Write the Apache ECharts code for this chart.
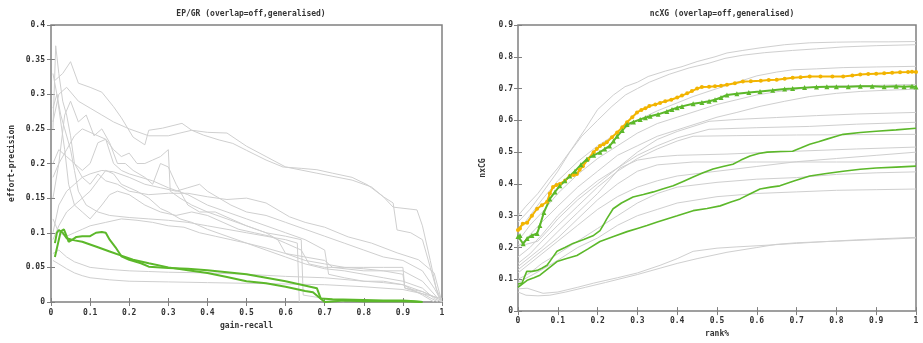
<!DOCTYPE html>
<html>
<head>
<meta charset="utf-8">
<script src="https://cdn.jsdelivr.net/npm/echarts@6/dist/echarts.min.js"></script>
<style>html,body{margin:0;padding:0;background:#fff}#c{width:923px;height:343px}</style>
</head>
<body>
<div id="c"></div>
<script>
// ---------- Titles / axis names ----------
const leftTitle = "EP/GR (overlap=off,generalised)";
const rightTitle = "ncXG (overlap=off,generalised)";
const leftXName = "gain-recall";
const leftYName = "effort-precision";
const rightXName = "rank%";
const rightYName = "nxCG";

// ---------- Left chart (EP/GR) : gray runs ----------
const ep1 = [[0.01,0.32],[0.03,0.33],[0.05,0.347],[0.07,0.316],[0.1,0.31],[0.13,0.303],[0.16,0.282],[0.18,0.266],[0.21,0.238],[0.24,0.227],[0.25,0.248],[0.285,0.251],[0.335,0.258],[0.36,0.248],[0.39,0.241],[0.43,0.234],[0.465,0.229],[0.5,0.219],[0.55,0.205],[0.593,0.195],[0.64,0.193],[0.68,0.191],[0.72,0.186],[0.77,0.18],[0.81,0.169],[0.85,0.152],[0.875,0.137],[0.936,0.133],[0.95,0.11],[0.97,0.06],[0.985,0.02],[1,0]];
const ep2 = [[0.005,0.26],[0.02,0.30],[0.04,0.31],[0.07,0.29],[0.1,0.28],[0.13,0.27],[0.16,0.26],[0.2,0.25],[0.25,0.24],[0.3,0.24],[0.36,0.248],[0.4,0.245],[0.45,0.244],[0.5,0.225],[0.55,0.21],[0.6,0.195],[0.68,0.186],[0.77,0.176],[0.82,0.166],[0.85,0.152],[0.875,0.143],[0.885,0.104],[0.92,0.10],[0.95,0.09],[0.97,0.05],[0.99,0.01],[1,0]];
const ep3 = [[0.005,0.25],[0.012,0.37],[0.02,0.33],[0.03,0.29],[0.04,0.27],[0.05,0.24],[0.06,0.2],[0.08,0.18],[0.1,0.17],[0.12,0.185],[0.14,0.175],[0.17,0.17],[0.2,0.16],[0.25,0.155],[0.3,0.157],[0.35,0.157],[0.4,0.152],[0.45,0.148],[0.5,0.15],[0.55,0.143],[0.61,0.123],[0.65,0.115],[0.7,0.108],[0.76,0.094],[0.82,0.085],[0.885,0.071],[0.94,0.061],[0.98,0.042],[0.995,0.01],[1,0]];
const ep4 = [[0.005,0.28],[0.015,0.3],[0.025,0.27],[0.035,0.25],[0.05,0.22],[0.06,0.19],[0.07,0.16],[0.09,0.14],[0.12,0.13],[0.15,0.125],[0.2,0.122],[0.25,0.12],[0.3,0.118],[0.35,0.115],[0.4,0.11],[0.45,0.105],[0.5,0.1],[0.55,0.095],[0.6,0.09],[0.63,0.085],[0.635,0.0]];
const ep5 = [[0.005,0.2],[0.02,0.22],[0.04,0.21],[0.06,0.2],[0.08,0.19],[0.1,0.2],[0.12,0.23],[0.14,0.235],[0.16,0.2],[0.18,0.19],[0.2,0.185],[0.23,0.18],[0.26,0.175],[0.3,0.165],[0.35,0.155],[0.4,0.14],[0.45,0.13],[0.5,0.12],[0.55,0.11],[0.6,0.1],[0.65,0.09],[0.7,0.075],[0.71,0.04],[0.75,0.035],[0.8,0.03],[0.85,0.03],[0.9,0.025],[0.95,0.01],[0.98,0]];
const ep6 = [[0.005,0.15],[0.02,0.2],[0.035,0.27],[0.05,0.29],[0.07,0.26],[0.09,0.27],[0.11,0.24],[0.13,0.25],[0.15,0.23],[0.17,0.2],[0.19,0.2],[0.21,0.19],[0.24,0.18],[0.26,0.17],[0.28,0.2],[0.3,0.195],[0.32,0.17],[0.35,0.14],[0.38,0.13],[0.42,0.13],[0.46,0.12],[0.5,0.11],[0.55,0.1],[0.58,0.09],[0.6,0.07],[0.65,0.06],[0.7,0.055],[0.75,0.05],[0.8,0.048],[0.85,0.045],[0.9,0.04],[0.905,0.02],[0.95,0.012],[0.99,0]];
const ep7 = [[0.005,0.09],[0.02,0.11],[0.04,0.13],[0.06,0.14],[0.08,0.15],[0.1,0.16],[0.12,0.175],[0.14,0.19],[0.16,0.185],[0.18,0.17],[0.2,0.165],[0.22,0.16],[0.25,0.15],[0.28,0.135],[0.3,0.13],[0.33,0.12],[0.36,0.115],[0.4,0.105],[0.45,0.095],[0.5,0.085],[0.55,0.078],[0.6,0.07],[0.65,0.065],[0.7,0.06],[0.72,0.05],[0.8,0.045],[0.9,0.045],[0.95,0.03],[0.99,0.005]];
const ep8 = [[0.005,0.12],[0.02,0.1],[0.04,0.095],[0.06,0.1],[0.08,0.105],[0.1,0.11],[0.14,0.115],[0.18,0.12],[0.22,0.118],[0.26,0.115],[0.3,0.11],[0.34,0.108],[0.38,0.1],[0.42,0.095],[0.46,0.09],[0.5,0.085],[0.55,0.075],[0.6,0.065],[0.65,0.055],[0.7,0.048],[0.75,0.045],[0.8,0.04],[0.85,0.035],[0.9,0.03],[0.95,0.02],[0.98,0.005],[1,0]];
const ep9 = [[0.005,0.06],[0.02,0.055],[0.04,0.048],[0.06,0.042],[0.08,0.038],[0.1,0.035],[0.15,0.032],[0.2,0.03],[0.3,0.029],[0.4,0.028],[0.5,0.027],[0.6,0.026],[0.7,0.025],[0.8,0.022],[0.9,0.018],[0.95,0.012],[1,0.005]];
const ep10 = [[0.005,0.07],[0.02,0.075],[0.04,0.065],[0.06,0.058],[0.1,0.05],[0.15,0.047],[0.2,0.045],[0.25,0.044],[0.3,0.043],[0.4,0.042],[0.5,0.04],[0.6,0.037],[0.7,0.035],[0.8,0.03],[0.85,0.028],[0.9,0.025],[0.95,0.015],[1,0.002]];
const ep11 = [[0.005,0.33],[0.015,0.3],[0.025,0.26],[0.035,0.22],[0.045,0.17],[0.06,0.14],[0.08,0.13],[0.1,0.12],[0.13,0.14],[0.15,0.155],[0.17,0.16],[0.2,0.155],[0.24,0.14],[0.28,0.13],[0.32,0.125],[0.36,0.13],[0.4,0.125],[0.44,0.115],[0.48,0.105],[0.52,0.1],[0.56,0.095],[0.6,0.085],[0.64,0.075],[0.66,0.055],[0.7,0.05],[0.75,0.05],[0.8,0.05],[0.85,0.05],[0.9,0.05],[0.905,0.02],[0.95,0.015],[0.99,0.005]];
const ep12 = [[0.005,0.18],[0.02,0.2],[0.04,0.22],[0.06,0.24],[0.08,0.25],[0.1,0.245],[0.12,0.24],[0.14,0.235],[0.16,0.22],[0.18,0.21],[0.2,0.215],[0.22,0.2],[0.24,0.2],[0.26,0.205],[0.28,0.21],[0.3,0.22],[0.305,0.16],[0.33,0.15],[0.36,0.14],[0.4,0.13],[0.45,0.12],[0.5,0.11],[0.55,0.1],[0.6,0.095],[0.64,0.09],[0.645,0.01],[0.7,0.005],[0.75,0]];
const ep13 = [[0.005,0.1],[0.02,0.14],[0.04,0.16],[0.06,0.17],[0.08,0.18],[0.1,0.185],[0.13,0.19],[0.16,0.188],[0.2,0.18],[0.24,0.17],[0.28,0.165],[0.32,0.16],[0.35,0.165],[0.38,0.17],[0.4,0.16],[0.43,0.15],[0.46,0.14],[0.5,0.13],[0.55,0.125],[0.6,0.115],[0.65,0.105],[0.7,0.095],[0.75,0.085],[0.8,0.075],[0.85,0.065],[0.9,0.06],[0.95,0.045],[0.98,0.02],[1,0]];
// ---------- Left chart : green runs ----------
const epGreenA = [[0.01,0.065],[0.02,0.09],[0.025,0.102],[0.033,0.105],[0.04,0.095],[0.045,0.087],[0.055,0.09],[0.065,0.094],[0.08,0.095],[0.1,0.095],[0.115,0.1],[0.13,0.101],[0.14,0.1],[0.15,0.09],[0.165,0.079],[0.18,0.066],[0.2,0.061],[0.23,0.056],[0.25,0.051],[0.3,0.049],[0.35,0.048],[0.4,0.046],[0.45,0.043],[0.5,0.04],[0.55,0.035],[0.6,0.03],[0.64,0.025],[0.68,0.02],[0.69,0.005],[0.72,0.004],[0.8,0.003],[0.85,0.002],[0.9,0.002],[0.93,0.001],[0.95,0]];
const epGreenB = [[0.01,0.085],[0.015,0.1],[0.02,0.104],[0.03,0.1],[0.04,0.092],[0.06,0.089],[0.08,0.087],[0.1,0.083],[0.12,0.079],[0.15,0.073],[0.18,0.067],[0.21,0.061],[0.25,0.056],[0.3,0.05],[0.35,0.046],[0.4,0.042],[0.45,0.036],[0.5,0.03],[0.55,0.027],[0.6,0.022],[0.65,0.016],[0.67,0.014],[0.7,0],[0.75,0.002],[0.8,0.001],[0.9,0.001],[0.95,0]];

// ---------- Right chart (ncXG) : gray runs ----------
const nx1 = [[0,0.3],[0.02,0.33],[0.05,0.37],[0.08,0.42],[0.1,0.45],[0.135,0.51],[0.17,0.575],[0.2,0.634],[0.24,0.68],[0.269,0.706],[0.3,0.72],[0.327,0.738],[0.37,0.755],[0.412,0.769],[0.45,0.785],[0.495,0.80],[0.525,0.812],[0.565,0.82],[0.608,0.828],[0.67,0.838],[0.733,0.844],[0.8,0.846],[0.86,0.847],[0.93,0.847],[1,0.848]];
const nx2 = [[0,0.28],[0.03,0.32],[0.06,0.37],[0.1,0.44],[0.13,0.5],[0.16,0.55],[0.2,0.6],[0.236,0.644],[0.27,0.68],[0.3,0.7],[0.33,0.72],[0.38,0.745],[0.43,0.765],[0.48,0.78],[0.52,0.795],[0.565,0.805],[0.62,0.813],[0.69,0.82],[0.75,0.825],[0.817,0.831],[0.9,0.835],[1,0.838]];
const nx3 = [[0,0.25],[0.03,0.3],[0.06,0.35],[0.1,0.41],[0.15,0.47],[0.2,0.52],[0.25,0.56],[0.3,0.6],[0.35,0.63],[0.4,0.655],[0.44,0.675],[0.5,0.7],[0.55,0.72],[0.6,0.74],[0.65,0.752],[0.69,0.759],[0.75,0.762],[0.817,0.766],[0.9,0.768],[1,0.77]];
const nx4 = [[0,0.22],[0.03,0.27],[0.06,0.31],[0.1,0.37],[0.15,0.43],[0.2,0.48],[0.25,0.52],[0.3,0.56],[0.35,0.59],[0.4,0.61],[0.45,0.63],[0.5,0.65],[0.55,0.665],[0.6,0.68],[0.65,0.69],[0.733,0.703],[0.8,0.708],[0.9,0.71],[1,0.713]];
const nx5 = [[0,0.2],[0.03,0.24],[0.06,0.28],[0.1,0.33],[0.15,0.39],[0.2,0.44],[0.25,0.49],[0.3,0.52],[0.35,0.55],[0.4,0.57],[0.45,0.59],[0.5,0.61],[0.55,0.625],[0.608,0.644],[0.67,0.66],[0.733,0.675],[0.8,0.685],[0.86,0.691],[0.93,0.695],[1,0.698]];
const nx6 = [[0,0.21],[0.02,0.21],[0.05,0.22],[0.08,0.26],[0.1,0.29],[0.15,0.35],[0.2,0.4],[0.25,0.45],[0.3,0.5],[0.35,0.54],[0.4,0.565],[0.48,0.597],[0.55,0.603],[0.65,0.609],[0.75,0.615],[0.85,0.62],[1,0.625]];
const nx7 = [[0,0.17],[0.03,0.2],[0.06,0.24],[0.1,0.3],[0.15,0.36],[0.2,0.41],[0.25,0.45],[0.3,0.49],[0.35,0.52],[0.4,0.545],[0.48,0.572],[0.6,0.577],[0.733,0.581],[0.85,0.588],[1,0.594]];
const nx8 = [[0,0.15],[0.03,0.18],[0.06,0.22],[0.1,0.27],[0.15,0.33],[0.2,0.39],[0.25,0.44],[0.3,0.48],[0.35,0.51],[0.4,0.535],[0.44,0.55],[0.55,0.552],[0.7,0.554],[0.85,0.555],[1,0.556]];
const nx9 = [[0,0.14],[0.03,0.17],[0.06,0.2],[0.1,0.25],[0.15,0.31],[0.2,0.37],[0.256,0.45],[0.3,0.475],[0.35,0.485],[0.4,0.49],[0.525,0.494],[0.7,0.503],[0.85,0.51],[1,0.516]];
const nx10 = [[0,0.12],[0.03,0.15],[0.06,0.18],[0.1,0.22],[0.15,0.27],[0.2,0.32],[0.25,0.36],[0.3,0.39],[0.35,0.41],[0.4,0.425],[0.5,0.44],[0.6,0.455],[0.7,0.47],[0.8,0.48],[0.9,0.49],[1,0.50]];
const nx11 = [[0,0.13],[0.03,0.16],[0.06,0.19],[0.1,0.23],[0.15,0.29],[0.2,0.35],[0.25,0.4],[0.3,0.44],[0.35,0.46],[0.44,0.469],[0.6,0.469],[0.8,0.469],[1,0.469]];
const nx12 = [[0,0.1],[0.03,0.12],[0.06,0.15],[0.1,0.18],[0.15,0.22],[0.2,0.26],[0.25,0.3],[0.3,0.34],[0.35,0.37],[0.4,0.39],[0.5,0.405],[0.6,0.415],[0.7,0.42],[0.8,0.43],[0.9,0.435],[1,0.438]];
const nx13 = [[0,0.09],[0.03,0.11],[0.06,0.13],[0.1,0.16],[0.15,0.2],[0.2,0.23],[0.25,0.27],[0.3,0.3],[0.35,0.32],[0.4,0.34],[0.5,0.36],[0.6,0.37],[0.7,0.375],[0.8,0.38],[0.9,0.382],[1,0.384]];
const nx14 = [[0,0.07],[0.023,0.072],[0.063,0.056],[0.1,0.06],[0.15,0.075],[0.19,0.088],[0.25,0.105],[0.3,0.12],[0.357,0.144],[0.4,0.165],[0.44,0.188],[0.5,0.198],[0.55,0.202],[0.608,0.206],[0.7,0.213],[0.776,0.219],[0.85,0.224],[0.92,0.228],[1,0.232]];
const nx15 = [[0,0.06],[0.02,0.05],[0.05,0.048],[0.08,0.05],[0.12,0.06],[0.17,0.075],[0.22,0.09],[0.3,0.115],[0.357,0.135],[0.4,0.15],[0.45,0.165],[0.525,0.185],[0.6,0.2],[0.65,0.21],[0.7,0.215],[0.8,0.22],[0.9,0.225],[1,0.23]];
// ---------- Right chart : highlighted runs ----------
const nxOrange = [[0,0.255],[0.005,0.26],[0.012,0.275],[0.023,0.278],[0.035,0.3],[0.048,0.322],[0.06,0.333],[0.073,0.344],[0.08,0.37],[0.088,0.39],[0.097,0.397],[0.105,0.40],[0.118,0.41],[0.13,0.425],[0.14,0.428],[0.148,0.431],[0.155,0.445],[0.163,0.456],[0.176,0.478],[0.19,0.50],[0.198,0.51],[0.206,0.519],[0.215,0.525],[0.223,0.531],[0.236,0.547],[0.249,0.562],[0.262,0.578],[0.274,0.594],[0.287,0.61],[0.299,0.625],[0.31,0.633],[0.32,0.638],[0.33,0.645],[0.345,0.65],[0.357,0.655],[0.37,0.66],[0.385,0.665],[0.4,0.672],[0.412,0.678],[0.425,0.685],[0.437,0.692],[0.45,0.700],[0.462,0.705],[0.48,0.706],[0.495,0.707],[0.51,0.709],[0.525,0.712],[0.545,0.717],[0.565,0.722],[0.585,0.723],[0.61,0.725],[0.63,0.727],[0.65,0.728],[0.67,0.731],[0.69,0.734],[0.71,0.736],[0.733,0.738],[0.76,0.738],[0.79,0.738],[0.817,0.738],[0.84,0.741],[0.86,0.744],[0.88,0.746],[0.9,0.747],[0.92,0.748],[0.94,0.75],[0.96,0.751],[0.98,0.752],[0.99,0.753],[1,0.752]];
const nxGreenMarked = [[0,0.235],[0.005,0.238],[0.013,0.212],[0.023,0.228],[0.035,0.238],[0.048,0.244],[0.055,0.269],[0.065,0.31],[0.08,0.353],[0.093,0.375],[0.105,0.394],[0.118,0.41],[0.13,0.425],[0.143,0.44],[0.158,0.46],[0.173,0.478],[0.19,0.49],[0.206,0.50],[0.218,0.51],[0.23,0.519],[0.24,0.535],[0.249,0.55],[0.262,0.568],[0.274,0.587],[0.29,0.595],[0.307,0.603],[0.32,0.608],[0.332,0.613],[0.352,0.619],[0.374,0.628],[0.387,0.634],[0.4,0.64],[0.412,0.644],[0.44,0.652],[0.462,0.656],[0.48,0.66],[0.495,0.665],[0.51,0.672],[0.525,0.68],[0.55,0.684],[0.58,0.688],[0.608,0.691],[0.64,0.695],[0.67,0.699],[0.69,0.70],[0.72,0.703],[0.75,0.705],[0.776,0.706],[0.8,0.706],[0.83,0.706],[0.86,0.707],[0.89,0.707],[0.92,0.706],[0.95,0.707],[0.97,0.706],[0.99,0.707],[1,0.705]];
const nxGreenA = [[0,0.085],[0.01,0.088],[0.022,0.125],[0.035,0.125],[0.048,0.128],[0.06,0.135],[0.073,0.144],[0.085,0.165],[0.098,0.188],[0.118,0.2],[0.138,0.213],[0.165,0.225],[0.19,0.238],[0.206,0.253],[0.214,0.27],[0.223,0.29],[0.239,0.322],[0.26,0.34],[0.289,0.359],[0.315,0.367],[0.34,0.375],[0.365,0.385],[0.39,0.394],[0.415,0.408],[0.44,0.422],[0.465,0.435],[0.49,0.447],[0.515,0.455],[0.54,0.462],[0.56,0.475],[0.583,0.488],[0.605,0.496],[0.626,0.50],[0.66,0.502],[0.69,0.503],[0.71,0.513],[0.733,0.525],[0.755,0.533],[0.776,0.541],[0.8,0.55],[0.817,0.556],[0.86,0.562],[0.9,0.566],[0.95,0.57],[1,0.575]];
const nxGreenB = [[0,0.075],[0.005,0.081],[0.023,0.097],[0.04,0.105],[0.055,0.113],[0.075,0.133],[0.098,0.156],[0.12,0.165],[0.148,0.175],[0.175,0.195],[0.206,0.219],[0.24,0.235],[0.274,0.25],[0.3,0.26],[0.324,0.269],[0.35,0.28],[0.374,0.29],[0.4,0.3],[0.44,0.316],[0.475,0.323],[0.508,0.331],[0.535,0.343],[0.558,0.353],[0.585,0.37],[0.608,0.384],[0.635,0.39],[0.658,0.394],[0.695,0.41],[0.733,0.425],[0.775,0.433],[0.817,0.44],[0.86,0.446],[0.9,0.45],[0.95,0.453],[1,0.456]];

const epGrayRuns = [ep1,ep2,ep3,ep4,ep5,ep6,ep7,ep8,ep9,ep10,ep11,ep12,ep13];
const nxGrayRuns = [nx1,nx2,nx3,nx4,nx5,nx6,nx7,nx8,nx9,nx10,nx11,nx12,nx13,nx14,nx15];

// ---------- styling ----------
const FONT = 'DejaVu Sans Mono';
const txt = {fontFamily: FONT, fontWeight: 'bold', fontSize: 8, color: '#333'};
const FRAME = '#808080';
const GRAY = '#cfcfcf';
const GREEN = '#5cb82a';
const ORANGE = '#f2b400';

function xAx(grid, pos, showLabel, name, gap, margin) {
  return {
    type: 'value', gridIndex: grid, position: pos, min: 0, max: 1, interval: 0.1,
    name: showLabel ? name : '', nameLocation: 'middle', nameGap: gap, nameTextStyle: txt,
    axisLine: {show: false}, splitLine: {show: false},
    axisTick: {show: true, inside: true, length: 4, lineStyle: {color: FRAME, width: 1}},
    axisLabel: Object.assign({show: showLabel, margin: margin}, txt)
  };
}
function yAx(grid, pos, showLabel, max, interval, name, gap, margin) {
  return {
    type: 'value', gridIndex: grid, position: pos, min: 0, max: max, interval: interval,
    name: showLabel ? name : '', nameLocation: 'middle', nameGap: gap, nameTextStyle: txt,
    axisLine: {show: false}, splitLine: {show: false},
    axisTick: {show: true, inside: true, length: 4, lineStyle: {color: FRAME, width: 1}},
    axisLabel: Object.assign({show: showLabel, margin: margin}, txt)
  };
}
function line(data, xi, yi, color, width, z) {
  return {type: 'line', xAxisIndex: xi, yAxisIndex: yi, data: data, showSymbol: false, symbol: 'none',
          lineStyle: {color: color, width: width}, z: z, silent: true};
}

const series = [];
epGrayRuns.forEach(d => series.push(line(d, 0, 0, GRAY, 1, 2)));
series.push(line(epGreenA, 0, 0, GREEN, 2, 5));
series.push(line(epGreenB, 0, 0, GREEN, 2, 5));
nxGrayRuns.forEach(d => series.push(line(d, 2, 2, GRAY, 1, 2)));
series.push(line(nxGreenA, 2, 2, GREEN, 1.6, 5));
series.push(line(nxGreenB, 2, 2, GREEN, 1.6, 5));
series.push(Object.assign(line(nxOrange, 2, 2, ORANGE, 2, 6), {symbol: 'circle', showSymbol: true, symbolSize: 4, itemStyle: {color: ORANGE}}));
series.push(Object.assign(line(nxGreenMarked, 2, 2, GREEN, 2, 6), {symbol: 'triangle', showSymbol: true, symbolSize: 5, itemStyle: {color: GREEN}}));

const chart = echarts.init(document.getElementById('c'), null, {renderer: 'canvas'});
chart.setOption({
  animation: false,
  backgroundColor: '#fff',
  title: [
    {text: leftTitle, left: 246, top: 5, textAlign: 'center', textStyle: txt},
    {text: rightTitle, left: 717, top: 5, textAlign: 'center', textStyle: txt}
  ],
  grid: [
    {left: 51, top: 25, width: 391, height: 277, show: true, borderColor: FRAME, borderWidth: 1.5, backgroundColor: '#fff'},
    {left: 518, top: 25, width: 398, height: 288, show: true, borderColor: FRAME, borderWidth: 1.5, backgroundColor: '#fff'}
  ],
  xAxis: [
    xAx(0, 'bottom', true, leftXName, 19, 7),
    xAx(0, 'top', false, '', 0, 0),
    xAx(1, 'bottom', true, rightXName, 18, 6),
    xAx(1, 'top', false, '', 0, 0)
  ],
  yAxis: [
    yAx(0, 'left', true, 0.4, 0.05, leftYName, 35, 6),
    yAx(0, 'right', false, 0.4, 0.05, '', 0, 0),
    yAx(1, 'left', true, 0.9, 0.1, rightYName, 31, 5),
    yAx(1, 'right', false, 0.9, 0.1, '', 0, 0)
  ],
  series: series
});
</script>
</body>
</html>
